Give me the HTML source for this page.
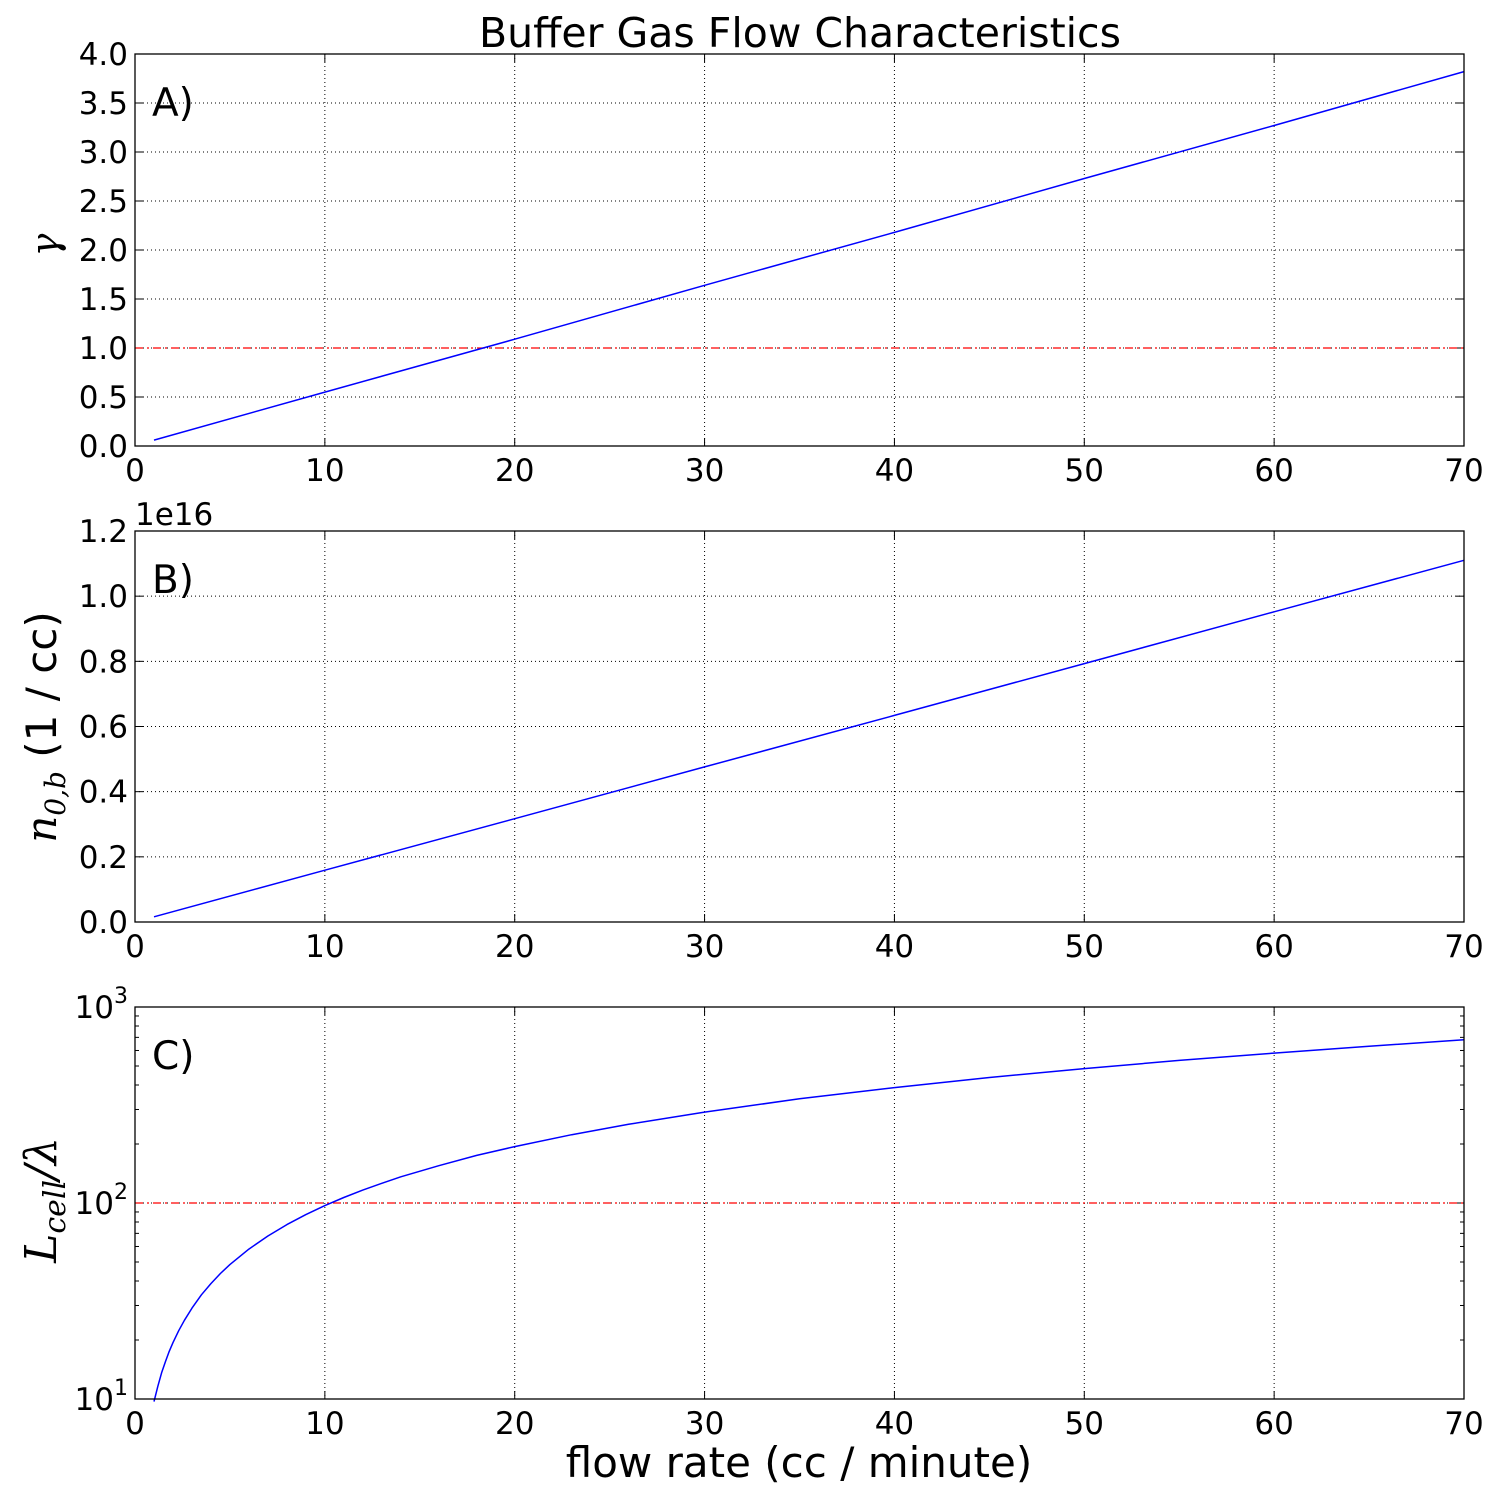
<!DOCTYPE html>
<html><head><meta charset="utf-8"><style>
body{margin:0;background:#fff}
svg{display:block}
text{font-family:"DejaVu Sans","Liberation Sans",sans-serif;fill:#000}
.m{font-family:"DejaVu Serif","Liberation Serif",serif;font-style:italic}
</style></head><body>
<svg id="chart" width="1500" height="1500" xmlns="http://www.w3.org/2000/svg">
<text x="800" y="47" font-size="41" text-anchor="middle">Buffer Gas Flow Characteristics</text>
<text x="799" y="1477" font-size="42" text-anchor="middle">flow rate (cc / minute)</text>
<g id="plots"></g>
</svg>
<script>
const xTicks=[0,10,20,30,40,50,60,70];
const flowA=[1,10,20,30,40,50,60,70];
const gammaVals=[0.06,0.55,1.09,1.64,2.18,2.73,3.27,3.82];
const flowB=[1,10,20,30,40,50,60,70];
const densityVals=[0.016,0.159,0.317,0.476,0.634,0.793,0.952,1.11];
const flowC=[1,1.2,1.4,1.6,1.8,2,2.3,2.6,3,3.5,4,4.5,5,6,7,8,9,10,11,12,13,14,16,18,20,23,26,30,35,40,45,50,55,60,65,70];
const ratioVals=[9.7,11.6,13.6,15.5,17.5,19.4,22.3,25.2,29.1,34,38.8,43.7,48.5,58.2,67.9,77.6,87.3,97,106.7,116.4,126,136,155,175,194,223,252,291,340,388,437,485,534,582,631,680];
const yTicksA=[0,0.5,1,1.5,2,2.5,3,3.5,4];
const yTicksB=[0,0.2,0.4,0.6,0.8,1.0,1.2];
const yTicksC=[1,2,3];
const NS='http://www.w3.org/2000/svg';
const root=document.getElementById('plots');
const L=135,R=1464;
const xs=v=>L+(v-0)/(70-0)*(R-L);
function mk(tag,attrs,parent){const e=document.createElementNS(NS,tag);for(const k in attrs)e.setAttribute(k,attrs[k]);(parent||root).appendChild(e);return e;}
function panel(name,top,bot,ys,yTicks,tickFmt,xv,yv,refLine,letter,log){
  const g=mk('g',{});
  
  
  xTicks.forEach(t=>{
    const x=xs(t);
    if(t>0&&t<70){const gl=mk('line',{x1:x,x2:x,y1:top,y2:bot,stroke:'#000','stroke-width':1,'stroke-dasharray':'1,3'},g);}
    mk('line',{x1:x,x2:x,y1:bot,y2:bot-8,stroke:'#000'},g);
    mk('line',{x1:x,x2:x,y1:top,y2:top+8,stroke:'#000'},g);
    const tl=mk('text',{x:x,y:bot+35,'font-size':31,'text-anchor':'middle'},g);tl.textContent=t;
    
  });
  yTicks.forEach(t=>{
    const y=ys(t);
    if(y>top+1&&y<bot-1){const gl=mk('line',{x1:L,x2:R,y1:y,y2:y,stroke:'#000','stroke-width':1,'stroke-dasharray':'1,3'},g);}
    mk('line',{x1:L,x2:L+8,y1:y,y2:y,stroke:'#000'},g);
    mk('line',{x1:R,x2:R-8,y1:y,y2:y,stroke:'#000'},g);
    const tl=mk('text',{x:L-7,y:y+11,'font-size':31,'text-anchor':'end'},g);
    
    if(log){tl.textContent='10';const s=mk('tspan',{dy:-15,'font-size':22},tl);s.textContent=t;}
    else tl.textContent=tickFmt(t);
  });
  if(log){for(let d=1;d<3;d++)for(let k=2;k<10;k++){const y=ys(d+Math.log10(k));
    mk('line',{x1:L,x2:L+4,y1:y,y2:y,stroke:'#000'},g);mk('line',{x1:R,x2:R-4,y1:y,y2:y,stroke:'#000'},g);}}
  if(refLine!==null){const rl=mk('line',{x1:L,x2:R,y1:ys(refLine),y2:ys(refLine),stroke:'#f00','stroke-width':1.2,'stroke-dasharray':'8,4,2,4'},g);}
  const pts=xv.map((x,i)=>xs(x).toFixed(1)+','+ys(log?Math.log10(yv[i]):yv[i]).toFixed(1)).join(' ');
  const pl=mk('polyline',{points:pts,fill:'none',stroke:'#00f','stroke-width':1.5,'stroke-linejoin':'round'},g);
  
  const fr=mk('rect',{x:L,y:top,width:R-L,height:bot-top,fill:'none',stroke:'#000','stroke-width':1.3},g);
  
  const lt=mk('text',{x:152,y:top+62,'font-size':39},g);lt.textContent=letter;
  
  return g;
}
const ysA=v=>446-(v/4)*(446-54);
const ysB=v=>922-(v/1.2)*(922-531);
const ysC=v=>1399-((v-1)/2)*(1399-1007);
panel('panel-a-gamma',54,446,ysA,yTicksA,t=>t.toFixed(1),flowA,gammaVals,1,'A)',false);
panel('panel-b-density',531,922,ysB,yTicksB,t=>t.toFixed(1),flowB,densityVals,null,'B)',false);
panel('panel-c-ratio',1007,1399,ysC,yTicksC,null,flowC,ratioVals,2,'C)',true);
let t=mk('text',{x:135,y:525,'font-size':31});t.textContent='1e16';

t=mk('text',{x:0,y:0,'font-size':38,class:'m',transform:'translate(58,245) rotate(-90)','text-anchor':'middle'});t.textContent='γ';

t=mk('text',{x:0,y:0,'font-size':42,transform:'translate(56,727) rotate(-90)','text-anchor':'middle'});

let s=mk('tspan',{class:'m'},t);s.textContent='n';s=mk('tspan',{class:'m','font-size':28,dy:9},t);s.textContent='0,b';s=mk('tspan',{dy:-9},t);s.textContent=' (1 / cc)';
t=mk('text',{x:0,y:0,'font-size':44,transform:'translate(56,1200) rotate(-90)','text-anchor':'middle'});

s=mk('tspan',{class:'m'},t);s.textContent='L';s=mk('tspan',{class:'m','font-size':30,dy:9},t);s.textContent='cell';s=mk('tspan',{class:'m',dy:-9},t);s.textContent='/λ';
</script>
</body></html>
